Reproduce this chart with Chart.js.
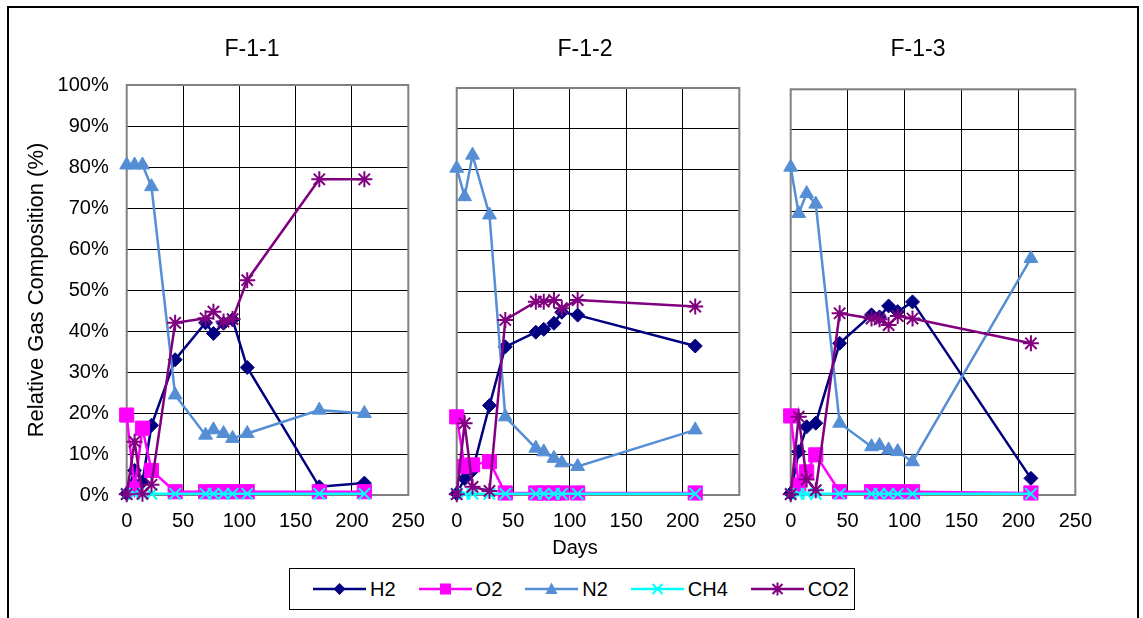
<!DOCTYPE html>
<html>
<head>
<meta charset="utf-8">
<script src="https://cdn.jsdelivr.net/npm/chart.js@4.4.1/dist/chart.umd.min.js"></script>
<style>
  body { margin: 0; width: 1143px; height: 618px; overflow: hidden; background: #fff; position: relative;
         font-family: "Liberation Sans", Arial, sans-serif; }
  #frame { position: absolute; left: 7px; top: 6px; width: 1128px; height: 700px; border: 2px solid #000; }
  canvas { position: absolute; }
  #days { position: absolute; left: 0; width: 1150px; top: 535px; text-align: center; font-size: 20px; line-height: 24px; }
  #legend { position: absolute; left: 289px; top: 568px; width: 566px; height: 42px; border: 1px solid #000;
            box-sizing: border-box; display: flex; align-items: center; padding-left: 23px; }
  .item { display: flex; align-items: center; margin-right: 23px; font-size: 20px; }
  .item svg { margin-right: 4px; }
</style>
</head>
<body>
<div id="frame"></div>
<canvas id="panel1"></canvas>
<canvas id="panel2"></canvas>
<canvas id="panel3"></canvas>
<div id="days">Days</div>
<div id="legend"></div>
<script>
// Series
const seriesNames = ['H2', 'O2', 'N2', 'CH4', 'CO2'];
const seriesColors = ['#000080', '#FF00FF', '#558ED5', '#00FFFF', '#800080'];
const pointStyles = ['rectRot', 'rect', 'triangle', 'crossRot', 'star'];
const pointSizes = [7, 10, 8, 8, 8];

const panelTitles = ['F-1-1', 'F-1-2', 'F-1-3'];
const xTicks = [0, 50, 100, 150, 200, 250];
const yTicks = [0, 10, 20, 30, 40, 50, 60, 70, 80, 90, 100];

// F-1-1
const days1 = [0, 7, 14, 22, 43, 70, 77, 86, 94, 107, 171, 211];
const h2_1 = [0.3, 6.0, 3.2, 17.0, 33.0, 42.0, 39.4, 41.9, 42.8, 31.1, 2.0, 2.9];
const o2_1 = [19.5, 1.5, 16.3, 6.0, 0.8, 0.8, 0.8, 0.8, 0.8, 0.8, 0.8, 0.8];
const n2_1 = [80.5, 80.5, 80.5, 75.2, 24.4, 14.6, 15.9, 15.0, 13.8, 15.0, 20.7, 19.9];
const ch4_1 = [0.3, 0.3, 0.3, 0.3, 0.3, 0.3, 0.3, 0.3, 0.3, 0.3, 0.3, 0.3];
const co2_1 = [0.2, 13.0, 0.3, 2.5, 42.0, 43.1, 44.7, 42.3, 42.9, 52.4, 77.0, 77.0];

// F-1-2
const days2 = [0, 7, 14, 29, 43, 70, 77, 86, 93, 107, 211];
const h2_2 = [0.3, 4.0, 6.0, 22.0, 36.4, 40.0, 40.7, 42.2, 44.9, 44.2, 36.6];
const o2_2 = [19.2, 7.0, 7.4, 8.2, 0.5, 0.5, 0.5, 0.5, 0.5, 0.5, 0.5];
const n2_2 = [80.3, 73.3, 83.5, 68.8, 19.2, 11.5, 10.6, 9.0, 7.9, 7.0, 16.0];
const ch4_2 = [0.3, 0.3, 0.3, 0.3, 0.3, 0.3, 0.3, 0.3, 0.3, 0.3, 0.3];
const co2_2 = [0.2, 17.6, 2.0, 1.0, 43.0, 47.5, 47.5, 47.9, 45.9, 47.9, 46.3];

// F-1-3
const days3 = [0, 7, 14, 22, 43, 71, 78, 86, 94, 107, 211];
const h2_3 = [0.4, 10.7, 16.8, 17.7, 37.4, 44.4, 43.9, 46.6, 45.2, 47.6, 4.1];
const o2_3 = [19.5, 2.5, 5.7, 9.9, 0.8, 0.8, 0.8, 0.8, 0.8, 0.8, 0.5];
const n2_3 = [80.8, 69.4, 74.3, 71.7, 17.7, 11.9, 12.2, 11.1, 10.7, 8.2, 58.3];
const ch4_3 = [0.3, 0.3, 0.3, 0.3, 0.3, 0.3, 0.3, 0.3, 0.3, 0.3, 0.3];
const co2_3 = [0.2, 19.3, 3.8, 1.2, 44.8, 43.5, 43.3, 41.9, 44.1, 43.5, 37.4];

const FONT = '"Liberation Sans", Arial, sans-serif';

// Panel boxes (canvas placement, axis widths)
const panels = [
  { id: 'panel1', days: days1, series: [h2_1, o2_1, n2_1, ch4_1, co2_1], left: 0,   width: 504, yWidth: 126.7, rWidth: 95.7, titleGap: 21.2, showY: true },
  { id: 'panel2', days: days2, series: [h2_2, o2_2, n2_2, ch4_2, co2_2], left: 400, width: 370, yWidth: 56.7,  rWidth: 25.4, titleGap: 24.2, showY: false },
  { id: 'panel3', days: days3, series: [h2_3, o2_3, n2_3, ch4_3, co2_3], left: 730, width: 376, yWidth: 60.7,  rWidth: 24.3, titleGap: 25.5, showY: false }
];

// Gray plot-area frame like Excel
const plotBorder = {
  id: 'plotBorder',
  beforeDatasetsDraw(chart) {
    const { ctx, chartArea: a } = chart;
    ctx.save();
    ctx.strokeStyle = '#808080';
    ctx.lineWidth = 2;
    ctx.strokeRect(a.left, a.top, a.right - a.left, a.bottom - a.top);
    ctx.restore();
  }
};

function makeDatasets(days, series) {
  return series.map((vals, i) => ({
    label: seriesNames[i],
    data: days.map((d, j) => ({ x: d, y: vals[j] })),
    borderColor: seriesColors[i],
    backgroundColor: seriesColors[i],
    borderWidth: 2.5,
    pointStyle: pointStyles[i],
    pointRadius: pointSizes[i],
    pointBorderWidth: i >= 3 ? 2 : 1,
    pointHoverRadius: pointSizes[i],
    order: seriesNames.length - i,
    clip: false
  }));
}

panels.forEach((p, k) => {
  const canvas = document.getElementById(p.id);
  canvas.width = p.width;
  canvas.height = 520;
  canvas.style.left = p.left + 'px';
  canvas.style.top = '20px';

  new Chart(canvas, {
    type: 'line',
    data: { datasets: makeDatasets(p.days, p.series) },
    plugins: [plotBorder],
    options: {
      responsive: false,
      animation: false,
      layout: { padding: 0 },
      plugins: {
        legend: { display: false },
        tooltip: { enabled: false },
        title: {
          display: true,
          text: panelTitles[k],
          color: '#000',
          font: { family: FONT, size: 23, weight: 'normal' },
          padding: { top: 16.2, bottom: p.titleGap }
        }
      },
      scales: {
        x: {
          type: 'linear',
          min: 0,
          max: 250,
          afterBuildTicks: s => { s.ticks = xTicks.map(v => ({ value: v })); },
          grid: { color: '#000', lineWidth: 1, drawTicks: false },
          border: { display: false },
          ticks: { color: '#000', padding: 14, font: { family: FONT, size: 20 } },
          afterFit: s => { s.height = 45; }
        },
        y: {
          min: 0,
          max: 100,
          afterBuildTicks: s => { s.ticks = yTicks.map(v => ({ value: v })); },
          grid: { color: '#000', lineWidth: 1, drawTicks: false },
          border: { display: false },
          ticks: {
            display: p.showY,
            color: '#000',
            padding: 18,
            font: { family: FONT, size: 20 },
            callback: v => v + '%'
          },
          title: {
            display: p.showY,
            text: 'Relative Gas Composition (%)',
            color: '#000',
            font: { family: FONT, size: 22 },
            padding: { top: 23.8, bottom: 0 }
          },
          afterFit: s => { s.width = p.yWidth; }
        },
        yRight: {
          position: 'right',
          min: 0,
          max: 100,
          grid: { display: false },
          border: { display: false },
          ticks: { display: false },
          afterFit: s => { s.width = p.rWidth; }
        }
      }
    }
  });
});

// Shared legend
const legendMarks = [
  '<polygon points="26.5,4 32.5,10 26.5,16 20.5,10" fill="C"/>',
  '<rect x="21" y="4.5" width="11" height="11" fill="C"/>',
  '<polygon points="26.5,3.5 32.5,15 20.5,15" fill="C"/>',
  '<path d="M21.5,5 L31.5,15 M31.5,5 L21.5,15" stroke="C" stroke-width="2"/>',
  '<path d="M21.5,5 L31.5,15 M31.5,5 L21.5,15 M26.5,3.5 L26.5,16.5" stroke="C" stroke-width="2"/>'
];
const legend = document.getElementById('legend');
seriesNames.forEach((name, i) => {
  const item = document.createElement('div');
  item.className = 'item';
  item.innerHTML = '<svg width="53" height="20"><line x1="0" y1="10" x2="53" y2="10" stroke="' + seriesColors[i] +
    '" stroke-width="2.5"/>' + legendMarks[i].replace(/C/g, seriesColors[i]) + '</svg><span>' + name + '</span>';
  legend.appendChild(item);
});
</script>
</body>
</html>
